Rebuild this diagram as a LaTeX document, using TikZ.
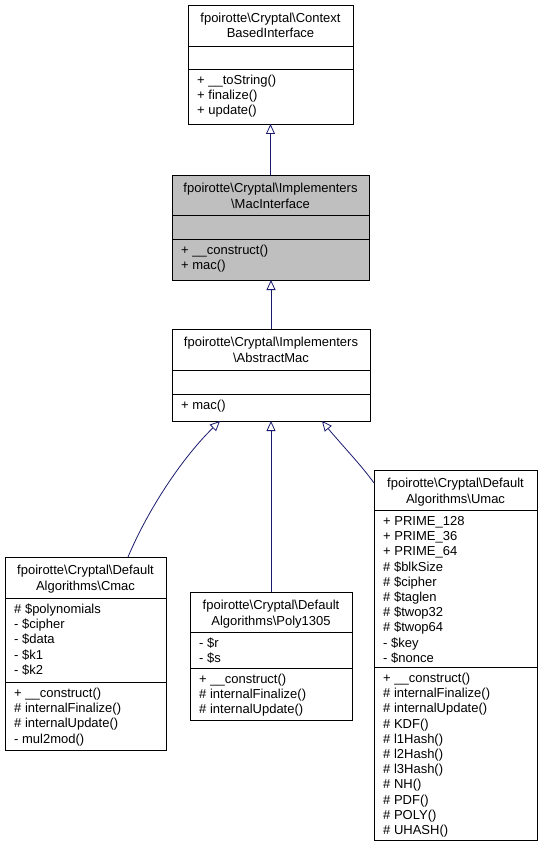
\documentclass[tikz,border=0pt]{standalone}
\usepackage{fontspec}
\setmainfont{Liberation Sans}
\usetikzlibrary{arrows.meta,calc}
\definecolor{edgeblue}{HTML}{191970}
\definecolor{grayfill}{HTML}{BFBFBF}
\newcommand\classbox[6]{%
  \node[cls, fill=#6, minimum width={(#4-#2)*1pt}, minimum height={(#5-#3)*1pt}]
    (#1) at ({(#2+#4)/2},{(#3+#5)/2}) {};}
\newcommand\sepline[2]{\draw[sepl] (#1.west |- 0,#2) -- (#1.east |- 0,#2);}
\tikzset{
  cls/.style={draw=black, line width=0.8pt, inner sep=0pt, outer sep=0pt},
  sepl/.style={draw=black, line width=0.8pt},
  mem/.style={anchor=base west, inner sep=0pt, font=\fontsize{13}{15}\selectfont},
  ttl/.style={anchor=base, inner sep=0pt, font=\fontsize{13}{15}\selectfont},
  inh/.style={draw=edgeblue, line width=0.8pt, -{Triangle[open, length=10pt, width=9pt, fill=white]}},
}
\begin{document}
\begin{tikzpicture}[x=1pt,y=-1pt]
\useasboundingbox (0,0) rectangle (543,845);
% ---- boxes
\classbox{ctx}{188}{5}{353}{124}{white}
\classbox{mac}{172}{175}{369}{280}{grayfill}
\classbox{abs}{172}{329}{370}{421}{white}
\classbox{cmac}{5}{557}{166}{750}{white}
\classbox{poly}{190}{592}{352}{720}{white}
\classbox{umac}{374}{470}{537}{840}{white}
% ---- separators
\sepline{ctx}{46}\sepline{ctx}{69}
\sepline{mac}{215}\sepline{mac}{239}
\sepline{abs}{370}\sepline{abs}{394}
\sepline{cmac}{598}\sepline{cmac}{682}
\sepline{poly}{632}\sepline{poly}{668}
\sepline{umac}{510}\sepline{umac}{667}
% ---- titles
\node[ttl] (ctx-t1) at (270.5,22.5) {fpoirotte\textbackslash Cryptal\textbackslash Context};
\node[ttl] (ctx-t2) at (270.5,38) {BasedInterface};
\node[ttl] (mac-t1) at (270.5,192.5) {fpoirotte\textbackslash Cryptal\textbackslash Implementers};
\node[ttl] (mac-t2) at (270.5,208) {\textbackslash MacInterface};
\node[ttl] (abs-t1) at (271,346.5) {fpoirotte\textbackslash Cryptal\textbackslash Implementers};
\node[ttl] (abs-t2) at (271,362) {\textbackslash AbstractMac};
\node[ttl] (cmac-t1) at (85.5,574.5) {fpoirotte\textbackslash Cryptal\textbackslash Default};
\node[ttl] (cmac-t2) at (85.5,590) {Algorithms\textbackslash Cmac};
\node[ttl] (poly-t1) at (271,609.5) {fpoirotte\textbackslash Cryptal\textbackslash Default};
\node[ttl] (poly-t2) at (271,625) {Algorithms\textbackslash Poly1305};
\node[ttl] (umac-t1) at (455.5,487.5) {fpoirotte\textbackslash Cryptal\textbackslash Default};
\node[ttl] (umac-t2) at (455.5,503) {Algorithms\textbackslash Umac};
% ---- members
\foreach \t [count=\i from 0] in {{+ \_\_toString()},{+ finalize()},{+ update()}}
  \node[mem] (ctx-m\i) at (197,84.5+15.2*\i) {\t};
\foreach \t [count=\i from 0] in {{+ \_\_construct()},{+ mac()}}
  \node[mem] (mac-m\i) at (181,254.5+15.2*\i) {\t};
\foreach \t [count=\i from 0] in {{+ mac()}}
  \node[mem] (abs-m\i) at (181,409.5+15.2*\i) {\t};
\foreach \t [count=\i from 0] in {{\# \$polynomials},{- \$cipher},{- \$data},{- \$k1},{- \$k2}}
  \node[mem] (cmac-a\i) at (14,613.5+15.2*\i) {\t};
\foreach \t [count=\i from 0] in {{+ \_\_construct()},{\# internalFinalize()},{\# internalUpdate()},{- mul2mod()}}
  \node[mem] (cmac-m\i) at (14,697.5+15.2*\i) {\t};
\foreach \t [count=\i from 0] in {{- \$r},{- \$s}}
  \node[mem] (poly-a\i) at (199,647.5+15.2*\i) {\t};
\foreach \t [count=\i from 0] in {{+ \_\_construct()},{\# internalFinalize()},{\# internalUpdate()}}
  \node[mem] (poly-m\i) at (199,683.5+15.2*\i) {\t};
\foreach \t [count=\i from 0] in {{+ PRIME\_128},{+ PRIME\_36},{+ PRIME\_64},{\# \$blkSize},{\# \$cipher},{\# \$taglen},{\# \$twop32},{\# \$twop64},{- \$key},{- \$nonce}}
  \node[mem] (umac-a\i) at (383,525.5+15.2*\i) {\t};
\foreach \t [count=\i from 0] in {{+ \_\_construct()},{\# internalFinalize()},{\# internalUpdate()},{\# KDF()},{\# l1Hash()},{\# l2Hash()},{\# l3Hash()},{\# NH()},{\# PDF()},{\# POLY()},{\# UHASH()}}
  \node[mem] (umac-m\i) at (383,682.5+15.2*\i) {\t};
% ---- inheritance connectors
\draw[inh] (mac.north) -- (mac.north |- ctx.south);
\draw[inh] (abs.north) -- (abs.north |- mac.south);
\draw[inh] (poly.north) -- (poly.north |- abs.south);
\draw[inh] ([xshift=42.5pt]cmac.north) .. controls (150,505) and (185,455) .. ([xshift=-51pt]abs.south);
\draw[inh] ([yshift=-13pt]umac.north west) .. controls (362,466) and (340,443) .. ([xshift=51pt]abs.south);
\end{tikzpicture}
\end{document}
